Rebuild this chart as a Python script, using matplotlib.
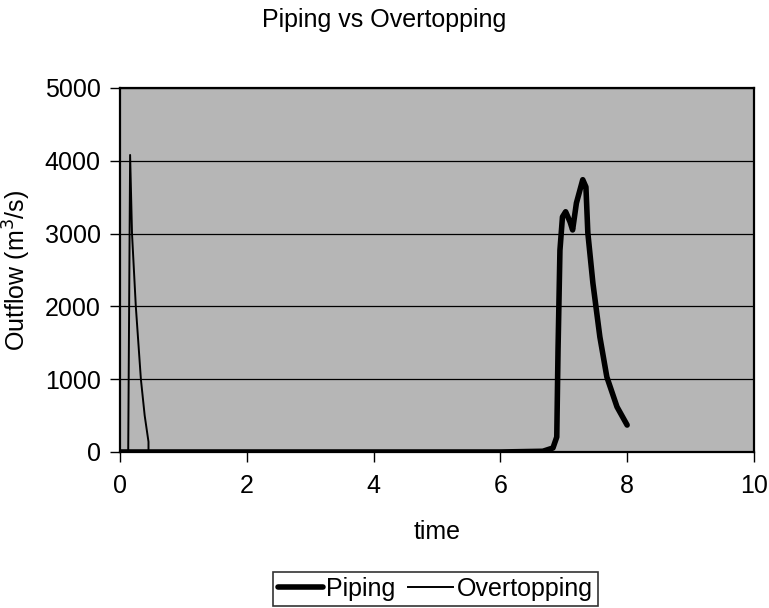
import matplotlib
matplotlib.use('Agg')
import matplotlib.pyplot as plt
from matplotlib.ticker import MultipleLocator

plt.rcParams['font.family'] = ['Liberation Sans', 'DejaVu Sans']

# piping outflow (time, m3/s)
piping_t = [0.0, 2.0, 4.0, 6.0, 6.67, 6.83, 6.89, 6.91, 6.94, 6.98, 7.03, 7.10, 7.14,
            7.20, 7.30, 7.35, 7.38, 7.46, 7.57, 7.68, 7.84, 8.0]
piping_q = [0, 0, 0, 0, 10, 55, 206, 1400, 2770, 3230, 3300, 3160, 3050,
            3420, 3740, 3640, 3010, 2320, 1580, 1030, 620, 370]

# overtopping outflow
over_t = [0.0, 0.13, 0.16, 0.19, 0.25, 0.33, 0.39, 0.45, 0.45, 1.0, 10.0]
over_q = [0, 0, 4080, 3000, 2000, 1000, 500, 140, 0, 0, 0]

fig = plt.figure(figsize=(7.69, 6.08), dpi=100)
ax = fig.add_axes([0.156, 0.2566, 0.8244, 0.5987])
ax.set_facecolor('#b6b6b6')

ax.plot(piping_t, piping_q, color='black', linewidth=4, label='Piping',
        solid_capstyle='round', solid_joinstyle='round', zorder=3)
ax.plot(over_t, over_q, color='black', linewidth=1.4, label='Overtopping', zorder=3)

ax.set_xlim(0, 10)
ax.set_ylim(0, 5000)
ax.xaxis.set_major_locator(MultipleLocator(2))
ax.yaxis.set_major_locator(MultipleLocator(1000))
ax.grid(axis='y', color='black', linewidth=0.9)
ax.set_axisbelow(True)
ax.tick_params(direction='out', length=7, width=1, labelsize=18)
ax.tick_params(axis='x', pad=9)
ax.tick_params(axis='y', pad=7)
for s in ax.spines.values():
    s.set_linewidth(1.6)

ax.set_xlabel('time', fontsize=18, labelpad=16)
ax.set_ylabel('Outflow (m$^3$/s)', fontsize=18, labelpad=8)
fig.text(0.5, 0.9556, 'Piping vs Overtopping', fontsize=18, ha='center', va='baseline')

leg = fig.legend(loc='center', bbox_to_anchor=(0.566, 0.032), ncol=2, fontsize=18,
                 frameon=True, fancybox=False, edgecolor='black', handlelength=1.8,
                 handletextpad=0.15, columnspacing=0.5, borderpad=0.2, borderaxespad=0)
leg.get_frame().set_linewidth(1.2)

fig.savefig('out.png', dpi=100)
